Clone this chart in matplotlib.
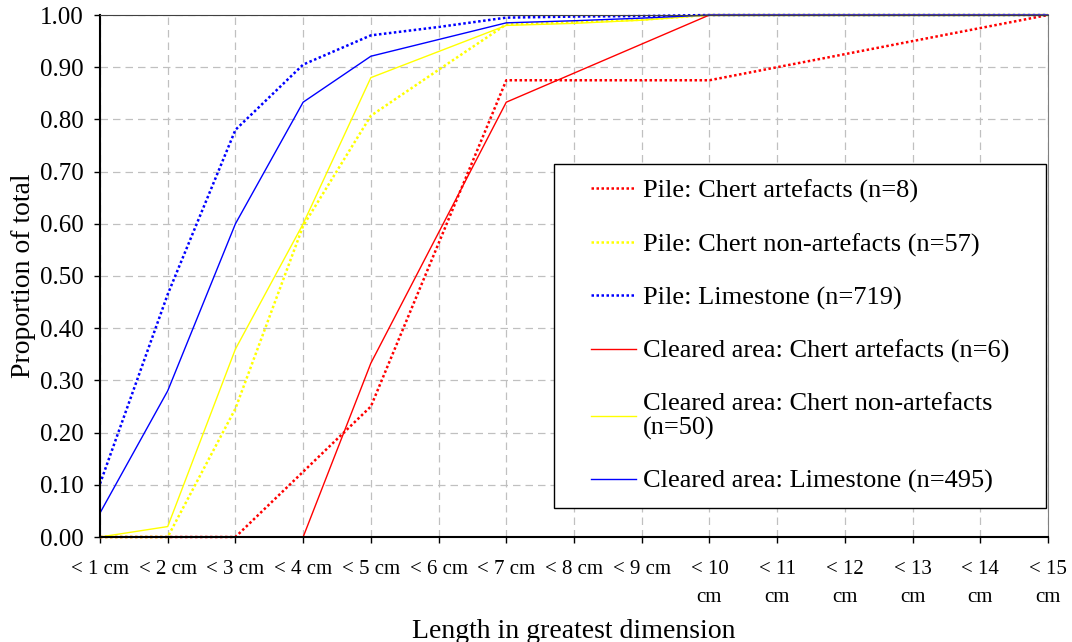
import matplotlib.pyplot as plt
import matplotlib.patches as mpatches
import numpy as np

plt.rcParams['font.family'] = ['Liberation Serif', 'DejaVu Serif']

# categories along the x axis
cats = ["< 1 cm", "< 2 cm", "< 3 cm", "< 4 cm", "< 5 cm", "< 6 cm", "< 7 cm",
        "< 8 cm", "< 9 cm", "< 10\ncm", "< 11\ncm", "< 12\ncm", "< 13\ncm",
        "< 14\ncm", "< 15\ncm"]

# cumulative proportions (None = no point in that class)
pile_chert_art = [0, 0, 0, 0.125, 0.25, None, 0.875, 0.875, 0.875, 0.875,
                  None, None, None, None, 1.0]
pile_chert_non = [0, 0, 0.246, 0.596, 0.807, 0.895, 0.982, 0.986, 0.991, 1.0,
                  1.0, 1.0, 1.0, 1.0, 1.0]
pile_lime = [0.102, 0.465, 0.78, 0.905, 0.961, 0.977, 0.995, 0.997, 0.998, 1.0,
             1.0, 1.0, 1.0, 1.0, 1.0]
clear_chert_art = [0, 0, 0, 0, 0.333, None, 0.833, None, None, 1.0,
                   1.0, 1.0, 1.0, 1.0, 1.0]
clear_chert_non = [0, 0.02, 0.36, 0.60, 0.88, 0.93, 0.98, 0.984, 0.99, 1.0,
                   1.0, 1.0, 1.0, 1.0, 1.0]
clear_lime = [0.046, 0.28, 0.60, 0.833, 0.921, 0.953, 0.985, 0.989, 0.994, 1.0,
              1.0, 1.0, 1.0, 1.0, 1.0]

fig = plt.figure(figsize=(10.72, 6.42), dpi=100)
ax = fig.add_axes([100/1072, 1 - 537/642, 948/1072, 522/642])

dot = (0, (1, 1))


def draw(vals, color, ls, lw, label):
    x = np.arange(len(vals))
    y = np.array([np.nan if v is None else v for v in vals], dtype=float)
    ok = ~np.isnan(y)
    ax.plot(x[ok], y[ok], color=color, ls=ls, lw=lw, label=label, clip_on=False)


draw(pile_chert_art, '#ff0000', dot, 1.8, "Pile: Chert artefacts (n=8)")
draw(pile_chert_non, '#ffff00', dot, 1.8, "Pile: Chert non-artefacts (n=57)")
draw(pile_lime, '#0000ff', dot, 1.8, "Pile: Limestone (n=719)")
draw(clear_chert_art, '#ff0000', '-', 1.0, "Cleared area: Chert artefacts (n=6)")
draw(clear_chert_non, '#ffff00', '-', 1.0, "Cleared area: Chert non-artefacts\n(n=50)")
draw(clear_lime, '#0000ff', '-', 1.0, "Cleared area: Limestone (n=495)")

ax.set_xlim(0, len(cats) - 1)
ax.set_ylim(0, 1)
ax.set_xticks(np.arange(len(cats)))
ax.set_xticklabels(cats, fontsize=15, linespacing=1.65)
ax.set_yticks(np.arange(0, 1.01, 0.1))
ax.set_yticklabels(["%.2f" % v for v in np.arange(0, 1.01, 0.1)], fontsize=18)
ax.tick_params(direction='out', length=4.5, width=1, color='black')
ax.tick_params(axis='y', pad=7)
ax.tick_params(axis='x', pad=12)

ax.grid(True, color='#c0c0c0', ls=(0, (6, 4)), lw=0.9)
ax.set_axisbelow(True)
ax.spines['left'].set_linewidth(1.5)
ax.spines['bottom'].set_linewidth(1.5)
ax.spines['top'].set_color('#404040')
ax.spines['right'].set_color('#808080')

ax.set_xlabel("Length in greatest dimension", fontsize=20)
ax.xaxis.set_label_coords(0.5, -0.157)
ax.set_ylabel("Proportion of total", fontsize=20)
ax.yaxis.set_label_coords(-0.068, 0.5)

# legend box
box = mpatches.Rectangle((554/1072, 1 - 508/642), 492/1072, 344/642,
                         transform=fig.transFigure, facecolor='white',
                         edgecolor='black', lw=1.0, zorder=5, clip_on=False)
ax.add_patch(box)
leg = ax.legend(loc='upper left', bbox_to_anchor=(578/1072, 1 - 166/642),
                bbox_transform=fig.transFigure, fontsize=19, frameon=False,
                borderpad=0, handlelength=1.7, handletextpad=0.25,
                labelspacing=1.12)
for t in leg.get_texts():
    t.set_linespacing(1.1)
leg.set_zorder(6)

fig.savefig("out.png", dpi=100)
